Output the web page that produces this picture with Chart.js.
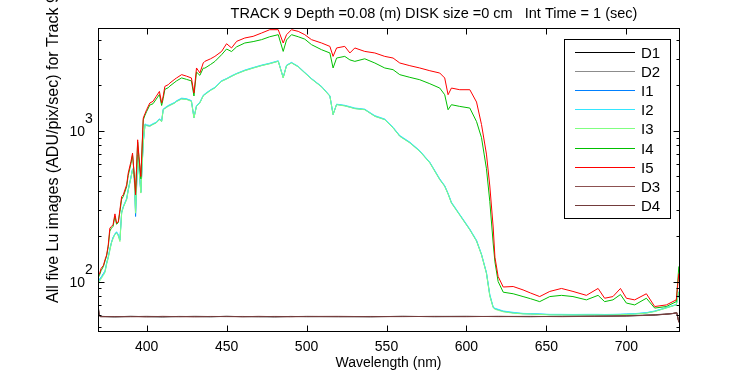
<!DOCTYPE html>
<html><head><meta charset="utf-8">
<script src="https://cdn.jsdelivr.net/npm/chart.js@4"></script>
<style>html,body{margin:0;padding:0;background:#fff}</style>
</head><body>
<canvas id="c" width="750" height="375"></canvas>
<script>
// ---------- data ----------
const wavelength = [369.7,370.5,371.5,373,374,375,376,377,378,379,380.2,381.2,382.3,383.3,384.4,385.4,387.5,388.5,390.2,391.2,
392.3,393.1,394.4,395.2,396.4,397.9,399,400,402,404,406,408,409.4,410.4,411.4,413.5,414.6,417.7,418.7,421.9,
425,428,429.6,431.2,433.3,435.4,436.4,440,442.7,446.9,450,453.1,456.3,461.4,466.6,471.9,477,482.3,485.4,487.5,
490.6,494.8,498.9,503.1,509.4,514.6,516.6,518.8,523.9,527.1,530.2,536.4,542.7,548.9,554.1,558.3,564.6,570.8,577.1,583.3,
586.4,588.5,590.6,595.8,602.1,606.3,609.4,612.5,614.6,616.7,617.8,619.8,623,629.2,635.4,640,645.8,652.1,659.4,666.6,
675,682.3,686.4,691.6,696.3,700,705.2,712.5,717.7,725,731.2,732.8];

const I5 = [110,112,122,128,140,150,175,226,232,238,281,244,249,300,366,376,438,524,625,711,
497,376,871,675,497,1214,1300,1378,1527,1566,1690,1823,1527,1700,1968,2020,2073,2200,2238,2355,
2300,2238,1778,2607,2415,2813,2884,3000,3112,3357,3776,3539,3915,4121,4226,4446,4677,4677,3818,4335,
4677,4560,4335,4018,3818,3625,3112,3539,3625,3279,3539,3357,3279,3112,3035,2813,2700,2607,2500,2414,
2238,1733,1919,1871,1871,1550,1100,700,430,230,145,108,92,92.7,88,84,79.5,86,90,86,
81,90,77.5,79.5,90,77.5,75.6,83,68.3,70,75.6,113];

const I4 = [106,110,118,126,137,148,170,216,226,232,272,240,246,290,352,366,425,505,605,690,
510,390,840,660,480,1180,1270,1340,1480,1510,1620,1740,1470,1640,1880,1930,1980,2100,2140,2240,
2190,2140,1700,2450,2330,2600,2600,2750,2880,3193,3483,3350,3600,3818,3900,4018,4200,4335,3357,4000,
4335,4200,4050,3723,3446,3279,2607,3035,3112,2950,2884,3000,2813,2607,2540,2354,2260,2179,2050,1919,
1733,1378,1488,1450,1414,1150,900,560,340,180,135,100,85,83,79.5,77,73.6,79.5,81,79.5,
75.6,81,73.6,75.6,82,72,70,77.5,66.7,68.3,73.6,126];

const I3 = [96,100,104,110,115,130,143,160,180,192,205,210,200,184,284,310,348,400,485,551,
480,284,675,560,386,829,1096,1080,1068,1100,1125,1183,1150,1378,1400,1450,1470,1527,1560,1623,
1610,1566,1214,1450,1527,1700,1733,1850,1919,2123,2200,2291,2380,2500,2600,2700,2780,2884,2238,2700,
2813,2650,2414,2200,1950,1690,1277,1488,1460,1430,1400,1378,1245,1183,1042,917,829,729,611,473,
427,380,331,275,220,185,150,113,80,67,65.5,64.5,63,61.7,61,60.8,60.5,60.1,60.1,60,
60.1,60.1,60,60.1,60.3,60.5,60.8,61.7,63.2,66.7,70,85];

const I2 = [100,103,107,112,118,133,146,165,182,195,208,214,205,190,290,316,355,410,495,560,
488,292,690,570,395,845,1110,1095,1085,1115,1140,1200,1165,1395,1420,1470,1490,1545,1580,1645,
1630,1585,1230,1470,1545,1720,1755,1870,1940,2145,2220,2315,2400,2525,2625,2725,2805,2910,2260,2725,
2840,2675,2440,2220,1970,1705,1290,1500,1475,1445,1415,1390,1260,1195,1055,930,840,738,618,480,
432,385,336,279,223,188,152,115,82,68,66.5,65.5,63.8,62.5,61.5,61.3,61,60.6,60.6,60.5,
60.6,60.6,60.5,60.6,60.8,61,61.3,62.2,63.8,67.2,70.5,86];

const I1 = [99,104,106,113,117,132,145,163,181,196,206,212,203,188,286,312,352,405,490,556,
484,270,680,565,390,835,1100,1085,1075,1105,1130,1190,1155,1385,1410,1460,1480,1535,1570,1630,
1620,1575,1220,1460,1535,1710,1745,1860,1930,2135,2210,2300,2390,2510,2610,2710,2790,2895,2250,2710,
2825,2660,2425,2210,1960,1700,1280,1495,1465,1435,1405,1382,1250,1188,1048,922,835,733,615,476,
430,382,333,277,221,186,151,114,81,67.5,66,65,63.4,62,61.2,61,60.8,60.3,60.3,60.2,
60.3,60.3,60.2,60.3,60.5,60.7,61,62,63.5,67,70.2,85];

const darkWavelength = [369.7,370.3,371,380,390,400,410,420,430,440,450,460,470,480,490,500,520,540,560,580,
600,620,640,660,680,700,710,718,724,729,731.5,732.8];
const D1 = [70,60,58.6,58.4,58.8,58.5,58.3,58.7,58.6,58.4,58.8,58.5,58.6,58.3,58.7,58.5,58.6,58.4,58.8,58.5,
58.6,58.7,58.5,58.8,58.9,59.2,59.6,60,60.6,61.3,62,54];
const D2 = [66,59.5,58.9,58.2,58.5,58.8,58.6,58.4,58.9,58.6,58.5,58.7,58.3,58.6,58.5,58.8,58.4,58.7,58.5,58.8,
58.9,58.5,58.8,58.6,59.1,59.4,59.8,60.3,60.9,61.5,62.4,53.5];
const D3 = [69,59.8,58.4,58.6,58.5,58.3,58.8,58.5,58.4,58.7,58.6,58.4,58.8,58.5,58.4,58.7,58.8,58.5,58.6,58.7,
58.5,58.8,58.7,58.5,58.8,59.3,59.5,60.2,60.7,61.4,62.2,53.8];
const D4 = [68,60.2,58.7,58.5,58.6,58.7,58.5,58.6,58.5,58.6,58.7,58.6,58.5,58.7,58.6,58.6,58.5,58.6,58.7,58.6,
58.7,58.6,58.6,58.7,58.9,59.2,59.7,60.1,60.7,61.4,62.1,53.6];

const seriesNames = ['D1','D2','I1','I2','I3','I4','I5','D3','D4'];
const xTickValues = [400,450,500,550,600,650,700];
const yMajorTicks = [100,1000];
const yMajorExp = ['2','3'];
const yMinorTicks = [50,60,70,80,90,200,300,400,500,600,700,800,900,2000,3000,4000];
const titleText = 'TRACK 9 Depth =0.08 (m) DISK size =0 cm   Int Time = 1 (sec)';
const xTitle = 'Wavelength (nm)';
const yTitle = 'All five Lu images (ADU/pix/sec) for Track 9';

// ---------- build ----------
const colors = {D1:'#000000',D2:'#8c8c8c',I1:'#0080ff',I2:'#33e6ff',I3:'#80ff80',I4:'#00bf00',I5:'#ff0000',D3:'#8c5151',D4:'#733b3b'};
const seriesData = {D1,D2,I1,I2,I3,I4,I5,D3,D4};
const FONT = '"Liberation Sans", Arial, Helvetica, sans-serif';

const datasets = seriesNames.map((n, i) => {
  const xs = n.startsWith('D') ? darkWavelength : wavelength;
  return {
    label: n,
    order: -i,
    data: seriesData[n].map((v,k)=>({x: xs[k], y: v})),
    borderColor: colors[n], backgroundColor: colors[n],
    borderWidth: 1, pointRadius: 0, tension: 0, fill: false
  };
});

const decor = {
  id: 'decor',
  afterDraw(chart) {
    const {ctx, chartArea: a, scales: {x, y}} = chart;
    ctx.save();
    ctx.strokeStyle = '#000'; ctx.lineWidth = 1;
    const L = Math.round(a.left)+0.5, R = Math.round(a.right)+0.5, T = Math.round(a.top)+0.5, B = Math.round(a.bottom)+0.5;
    ctx.strokeRect(L, T, R-L, B-T);
    const seg = (x1,y1,x2,y2)=>{ctx.beginPath();ctx.moveTo(x1,y1);ctx.lineTo(x2,y2);ctx.stroke();};
    xTickValues.forEach(v=>{const p=Math.round(x.getPixelForValue(v))+0.5; seg(p,B,p,B-6); seg(p,T,p,T+6);});
    yMajorTicks.forEach(v=>{const p=Math.round(y.getPixelForValue(v))+0.5; seg(L,p,L+6,p); seg(R,p,R-6,p);});
    yMinorTicks.forEach(v=>{const p=Math.round(y.getPixelForValue(v))+0.5; seg(L,p,L+3,p); seg(R,p,R-3,p);});

    ctx.fillStyle = '#000';
    ctx.font = '14px ' + FONT;
    ctx.textBaseline = 'alphabetic';
    // y tick labels with exponent
    yMajorTicks.forEach((v,i)=>{
      const p = y.getPixelForValue(v);
      ctx.textAlign = 'right'; ctx.fillText('10', 85, p+5.5);
      ctx.textAlign = 'left'; ctx.fillText(yMajorExp[i], 85, p-7.5);
    });
    // y title
    ctx.save();
    ctx.font = '16px ' + FONT;
    ctx.translate(57.5, 303); ctx.rotate(-Math.PI/2);
    ctx.textAlign = 'left'; ctx.fillText(yTitle, 0, 0);
    ctx.restore();
    // title
    ctx.font = '14.5px ' + FONT;
    ctx.textAlign = 'center';
    ctx.fillText(titleText, 434, 18);

    // legend
    const lx = 564.5, ly = 39.5, lw = 106, lh = 179;
    ctx.fillStyle = '#fff'; ctx.fillRect(lx, ly, lw, lh);
    ctx.strokeStyle = '#000'; ctx.strokeRect(lx, ly, lw, lh);
    ctx.font = '15px ' + FONT; ctx.textAlign = 'left';
    chart.data.datasets.forEach((ds,i)=>{
      const ry = Math.round(51.7 + i*19.16) + 0.5;
      ctx.strokeStyle = ds.borderColor; ctx.lineWidth = 1;
      seg(575, ry, 635, ry);
      ctx.fillStyle = '#000';
      ctx.fillText(ds.label, 641, ry + 5.5);
    });
    ctx.restore();
  }
};

new Chart(document.getElementById('c'), {
  type: 'line',
  data: { datasets },
  options: {
    responsive: false, animation: false, devicePixelRatio: 1,
    layout: { padding: { left: 0, top: 28, right: 71, bottom: 0 } },
    plugins: { legend: { display: false }, title: { display: false }, tooltip: { enabled: false } },
    scales: {
      x: {
        type: 'linear', min: 369.6, max: 732.9,
        grid: { display: false, drawTicks: false }, border: { display: false },
        afterBuildTicks: s => { s.ticks = xTickValues.map(v => ({ value: v })); },
        afterFit: s => { s.height = 44; },
        ticks: { color: '#000', font: { family: FONT, size: 14 }, padding: 8, maxRotation: 0, autoSkip: false },
        title: { display: true, text: xTitle, color: '#000', font: { family: FONT, size: 14 }, padding: { top: 0, bottom: 3 } }
      },
      y: {
        type: 'logarithmic', min: 47, max: 4800,
        grid: { display: false, drawTicks: false }, border: { display: false },
        ticks: { display: false },
        afterFit: s => { s.width = 98; }
      }
    }
  },
  plugins: [decor]
});
</script>
</body></html>
